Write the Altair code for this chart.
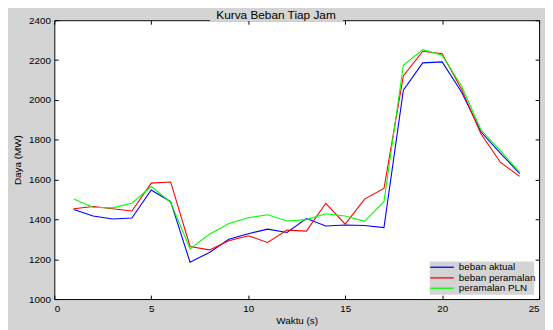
import altair as alt
import pandas as pd

# ---- data ----
hours = list(range(1, 25))
beban_aktual = [1450, 1417, 1402, 1407, 1548, 1489, 1185, 1234, 1300, 1328, 1351, 1334,
                1404, 1367, 1372, 1369, 1359, 2049, 2186, 2191, 2040, 1840, 1733, 1630]
beban_peramalan = [1453, 1465, 1453, 1442, 1582, 1588, 1264, 1247, 1293, 1318, 1284, 1346,
                   1341, 1481, 1376, 1502, 1555, 2120, 2244, 2232, 2054, 1830, 1687, 1616]
peramalan_pln = [1502, 1461, 1458, 1481, 1565, 1486, 1252, 1325, 1379, 1408, 1423, 1392,
                 1399, 1428, 1417, 1390, 1489, 2174, 2252, 2224, 2070, 1850, 1745, 1636]
series_names = ["beban aktual", "beban peramalan", "peramalan PLN"]
series_colors = ["#0000ff", "#ff0000", "#00ff00"]
x_ticks = [0, 5, 10, 15, 20, 25]
y_ticks = [1000, 1200, 1400, 1600, 1800, 2000, 2200, 2400]
chart_title = "Kurva Beban Tiap Jam"
x_title = "Waktu (s)"
y_title = "Daya (MW)"

rows = []
for name, vals in zip(series_names, [beban_aktual, beban_peramalan, peramalan_pln]):
    for h, v in zip(hours, vals):
        rows.append({"jam": h, "daya": v, "seri": name})
df = pd.DataFrame(rows)

W, H = 492, 283
GRAY = "#d4d4d4"
FONT = "Liberation Sans"

xs = alt.Scale(domain=[0, 25], nice=False, zero=False)
ys = alt.Scale(domain=[1000, 2400], nice=False, zero=False)

base = alt.Chart(df)

lines = base.mark_line(strokeWidth=1.1, clip=True).encode(
    x=alt.X("jam:Q", scale=xs, axis=alt.Axis(
        orient="bottom", values=x_ticks, format="d", title=x_title, grid=False, ticks=False,
        domain=True, domainColor="black", domainWidth=1, labelPadding=5,
        labelFont=FONT, labelFontSize=10, labelColor="black",
        titleFont=FONT, titleFontSize=10, titleFontWeight="normal", titleColor="black",
        titlePadding=2)),
    y=alt.Y("daya:Q", scale=ys, axis=alt.Axis(
        orient="left", values=y_ticks, format="d", title=y_title, grid=False, ticks=False,
        domain=True, domainColor="black", domainWidth=1, labelPadding=4,
        labelFont=FONT, labelFontSize=10, labelColor="black",
        titleFont=FONT, titleFontSize=10, titleFontWeight="normal", titleColor="black",
        titlePadding=6)),
    color=alt.Color("seri:N", sort=series_names,
                    scale=alt.Scale(domain=series_names, range=series_colors),
                    legend=None),
)

# inward ticks on bottom and left edges
inner_ticks = base.mark_line(opacity=0).encode(
    x=alt.X("jam:Q", scale=xs, axis=alt.Axis(
        orient="top", offset=-H, values=x_ticks, labels=False, title=None, grid=False,
        domain=False, ticks=True, tickSize=4, tickColor="black")),
    y=alt.Y("daya:Q", scale=ys, axis=alt.Axis(
        orient="right", offset=-W, values=y_ticks, labels=False, title=None, grid=False,
        domain=False, ticks=True, tickSize=4, tickColor="black")),
)

# top and right frame with inward ticks
frame = base.mark_line(opacity=0).encode(
    x=alt.X("jam:Q", scale=xs, axis=alt.Axis(
        orient="bottom", offset=-H, values=x_ticks, labels=False, title=None, grid=False,
        domain=True, domainColor="black", ticks=True, tickSize=4, tickColor="black")),
    y=alt.Y("daya:Q", scale=ys, axis=alt.Axis(
        orient="left", offset=-W, values=y_ticks, labels=False, title=None, grid=False,
        domain=True, domainColor="black", ticks=True, tickSize=4, tickColor="black")),
)

one = alt.Data(values=[{}])

title_box = alt.Chart(one).mark_rect(color=GRAY, clip=False).encode(
    x=alt.value(158), x2=alt.value(293), y=alt.value(-14), y2=alt.value(1))
title_text = alt.Chart(one).mark_text(
    font=FONT, fontSize=12, align="center", baseline="middle", color="black").encode(
    x=alt.value(225), y=alt.value(-5), text=alt.value(chart_title))

# legend box (upper-left at plot coords 381,245)
LX, LY = 381, 245
legend_layers = [
    alt.Chart(one).mark_rect(color=GRAY).encode(
        x=alt.value(LX), x2=alt.value(LX + 106), y=alt.value(LY), y2=alt.value(LY + 33.5))
]
row_y = [LY + 5.7, LY + 16.5, LY + 27]
for name, col, ry in zip(series_names, series_colors, row_y):
    legend_layers.append(alt.Chart(one).mark_rule(color=col, strokeWidth=1.3).encode(
        x=alt.value(LX + 0.5), x2=alt.value(LX + 24.5), y=alt.value(ry)))
    legend_layers.append(alt.Chart(one).mark_text(
        font=FONT, fontSize=10, align="left", baseline="middle", color="black").encode(
        x=alt.value(LX + 29.5), y=alt.value(ry), text=alt.value(name)))

chart = alt.layer(lines, inner_ticks, frame, title_box, title_text, *legend_layers).resolve_axis(
    x="independent", y="independent"
).properties(
    width=W, height=H, background=GRAY,
    autosize=alt.AutoSizeParams(type="none"),
    padding={"left": 47, "top": 10, "right": 6, "bottom": 29},
).configure_view(fill="white", strokeWidth=0)

chart.save("out.html", embed_options={"renderer": "svg", "actions": False})
